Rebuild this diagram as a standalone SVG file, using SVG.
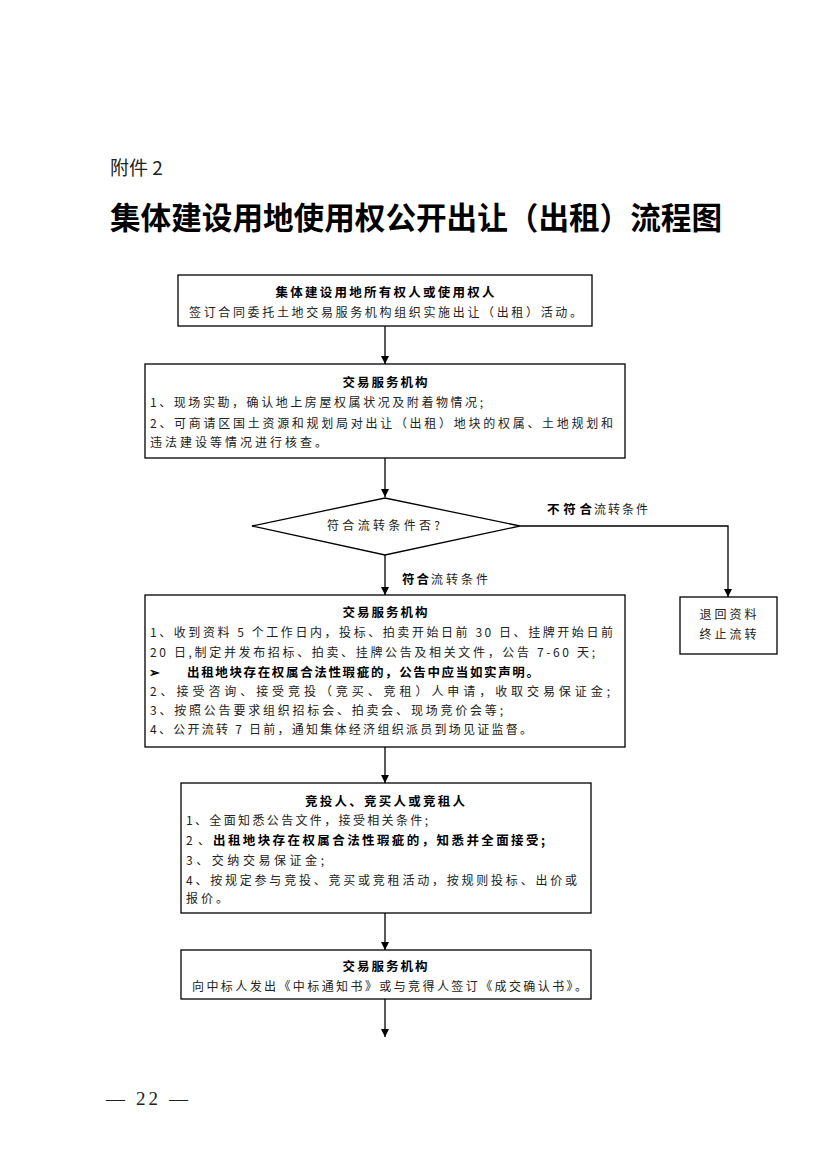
<svg xmlns="http://www.w3.org/2000/svg" width="827" height="1169" viewBox="0 0 827 1169">
<style>
.bx{fill:#fff;stroke:#000;stroke-width:1.3}
.t{font-family:"Noto Sans CJK SC","Liberation Serif",sans-serif;font-size:12px;fill:#222}
.b{font-family:"Noto Sans CJK SC","Liberation Serif",sans-serif;font-size:12.5px;font-weight:bold;fill:#000}
.c{text-anchor:middle}
.ln{fill:none;stroke:#000;stroke-width:1.3}
</style>
<defs>
<marker id="ah" viewBox="0 0 10 10" refX="10" refY="5" markerWidth="8" markerHeight="8" markerUnits="userSpaceOnUse" orient="auto">
<path d="M0,0 L10,5 L0,10 z" fill="#000"/>
</marker>
</defs>
<rect width="827" height="1169" fill="#fff"/>
<text x="110" y="175" font-family="Noto Sans CJK SC, sans-serif" font-size="19" fill="#222">附件 2</text>
<text x="110" y="229" font-family="Noto Sans CJK SC, sans-serif" font-size="31" font-weight="bold" fill="#000" textLength="612" lengthAdjust="spacingAndGlyphs">集体建设用地使用权公开出让（出租）流程图</text>

<g id="connectors">
<line class="ln" x1="385" y1="326" x2="385" y2="364" marker-end="url(#ah)"/>
<line class="ln" x1="385" y1="458" x2="385" y2="497" marker-end="url(#ah)"/>
<line class="ln" x1="385" y1="555" x2="385" y2="595" marker-end="url(#ah)"/>
<polyline class="ln" points="520,526 728,526 728,597" marker-end="url(#ah)"/>
<line class="ln" x1="385" y1="747" x2="385" y2="783" marker-end="url(#ah)"/>
<line class="ln" x1="385" y1="913" x2="385" y2="950" marker-end="url(#ah)"/>
<line class="ln" x1="385" y1="999" x2="385" y2="1037" marker-end="url(#ah)"/>
<text class="b" x="547" y="514" textLength="45" lengthAdjust="spacing">不符合</text>
<text class="t" x="594" y="514" textLength="54" lengthAdjust="spacing">流转条件</text>
<text class="b" x="402" y="584" textLength="27" lengthAdjust="spacing">符合</text>
<text class="t" x="431" y="584" textLength="57" lengthAdjust="spacing">流转条件</text>
</g>

<g id="n1">
<rect class="bx" x="178" y="275" width="414" height="51"/>
<text class="b c" x="385" y="297" textLength="219" lengthAdjust="spacing">集体建设用地所有权人或使用权人</text>
<text class="t" x="189" y="317" textLength="393" lengthAdjust="spacing">签订合同委托土地交易服务机构组织实施出让（出租）活动。</text>
</g>

<g id="n2">
<rect class="bx" x="145" y="364" width="480" height="94"/>
<text class="b c" x="385" y="387" textLength="85" lengthAdjust="spacing">交易服务机构</text>
<text class="t" x="150" y="407" textLength="333" lengthAdjust="spacing">1、现场实勘，确认地上房屋权属状况及附着物情况;</text>
<text class="t" x="150" y="428" textLength="463" lengthAdjust="spacing">2、可商请区国土资源和规划局对出让（出租）地块的权属、土地规划和</text>
<text class="t" x="150" y="447" textLength="177" lengthAdjust="spacing">违法建设等情况进行核查。</text>
</g>

<g id="n3">
<polygon class="bx" points="252,526 385,498 520,526 385,555"/>
<text class="t" x="327" y="530" textLength="113" lengthAdjust="spacing">符合流转条件否?</text>
</g>

<g id="n4">
<rect class="bx" x="680" y="597" width="97" height="57"/>
<text class="t c" x="728" y="619" textLength="57" lengthAdjust="spacing">退回资料</text>
<text class="t c" x="728" y="639" textLength="57" lengthAdjust="spacing">终止流转</text>
</g>

<g id="n5">
<rect class="bx" x="145" y="595" width="480" height="152"/>
<text class="b c" x="385" y="617" textLength="85" lengthAdjust="spacing">交易服务机构</text>
<text class="t" x="150" y="637" textLength="463" lengthAdjust="spacing">1、收到资料 5 个工作日内，投标、拍卖开始日前 30 日、挂牌开始日前</text>
<text class="t" x="150" y="657" textLength="445" lengthAdjust="spacing">20 日,制定并发布招标、拍卖、挂牌公告及相关文件，公告 7-60 天;</text>
<text class="b" x="149" y="677">➢</text>
<text class="b" x="187" y="677" textLength="352" lengthAdjust="spacing">出租地块存在权属合法性瑕疵的，公告中应当如实声明。</text>
<text class="t" x="150" y="696" textLength="460" lengthAdjust="spacing">2、接受咨询、接受竞投（竞买、竞租）人申请，收取交易保证金;</text>
<text class="t" x="150" y="715" textLength="353" lengthAdjust="spacing">3、按照公告要求组织招标会、拍卖会、现场竞价会等;</text>
<text class="t" x="150" y="734" textLength="382" lengthAdjust="spacing">4、公开流转 7 日前，通知集体经济组织派员到场见证监督。</text>
</g>

<g id="n6">
<rect class="bx" x="181" y="783" width="410" height="130"/>
<text class="b c" x="385" y="806" textLength="160" lengthAdjust="spacing">竞投人、竞买人或竞租人</text>
<text class="t" x="186" y="825" textLength="242" lengthAdjust="spacing">1、全面知悉公告文件，接受相关条件;</text>
<text class="t" x="186" y="845" textLength="24" lengthAdjust="spacing">2、</text>
<text class="b" x="213" y="845" textLength="332" lengthAdjust="spacing">出租地块存在权属合法性瑕疵的，知悉并全面接受;</text>
<text class="t" x="186" y="865" textLength="138" lengthAdjust="spacing">3、交纳交易保证金;</text>
<text class="t" x="186" y="885" textLength="391" lengthAdjust="spacing">4、按规定参与竞投、竞买或竞租活动，按规则投标、出价或</text>
<text class="t" x="186" y="903" textLength="42" lengthAdjust="spacing">报价。</text>
</g>

<g id="n7">
<rect class="bx" x="181" y="950" width="410" height="49"/>
<text class="b c" x="385" y="971" textLength="85" lengthAdjust="spacing">交易服务机构</text>
<text class="t" x="192" y="991" textLength="395" lengthAdjust="spacing">向中标人发出《中标通知书》或与竞得人签订《成交确认书》。</text>
</g>

<text x="106" y="1105" font-family="Liberation Serif, serif" font-size="19" fill="#222" textLength="82" lengthAdjust="spacing">— 22 —</text>
</svg>
